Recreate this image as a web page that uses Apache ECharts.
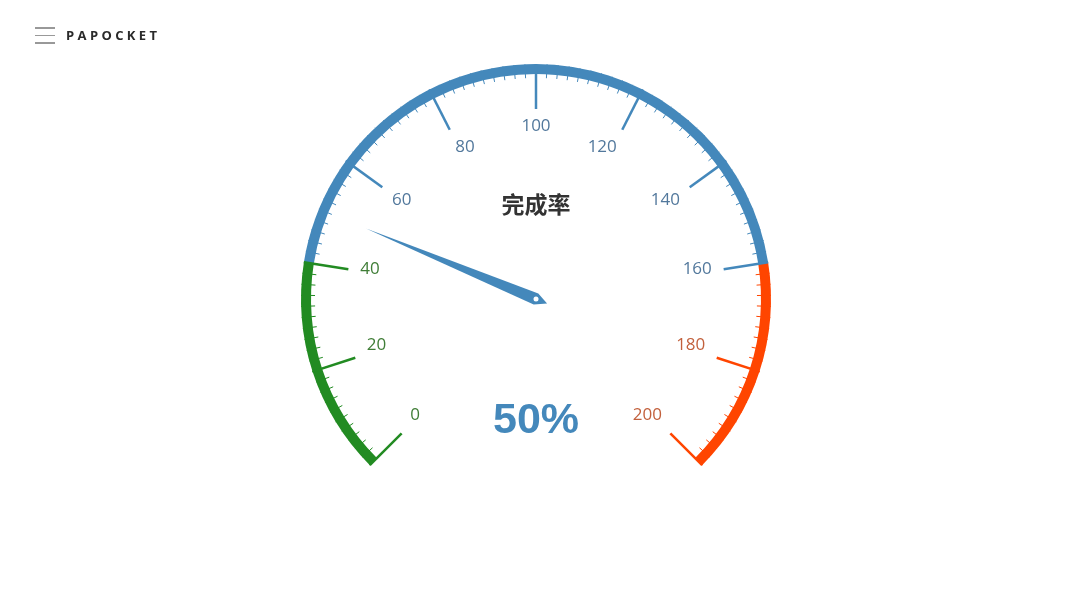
<!DOCTYPE html>
<html>
<head>
<meta charset="utf-8">
<script src="https://cdn.jsdelivr.net/npm/echarts@6/dist/echarts.min.js"></script>
<style>
html,body{margin:0;padding:0;background:#fff;}
#main{width:1080px;height:608px;}
</style>
</head>
<body>
<div id="main"></div>
<script>
// ---- data ----
var gaugeTitle = '完成率';
var gaugeValue = 50;
var axisMin = 0;
var axisMax = 200;
var majorSplits = 10;
var minorSplits = 10;
var bandStops = [0.2, 0.8, 1];
var bandColors = ['#228b22', '#4488bb', '#ff4500'];
var labelColors = ['#3f7d36', '#52789c', '#c2603c'];
var brandText = 'P A P O C K E T';
// style: per major tick label, spacer size (px, negative = below / positive = above) and line height
var labelNudges = [-10, -9, -2, 6, 0, 0, 0, 6, -2, -9, -10];
var labelLineHeights = [22, 22, 22, 22, 14, 10, 14, 22, 22, 22, 22];

var chart = echarts.init(document.getElementById('main'), null, {renderer: 'canvas'});

var bands = bandStops.map(function (s, i) { return [s, bandColors[i]]; });
var labelRich = {};
labelColors.forEach(function (c, i) {
  labelLineHeights.forEach(function (lh) {
    labelRich['b' + i + '_' + lh] = {color: c, fontSize: 17, lineHeight: lh, fontFamily: '"Open Sans", "Liberation Sans", sans-serif'};
  });
});
labelNudges.forEach(function (n) {
  var h = Math.abs(n) * 2;
  if (h > 0) labelRich['s' + h] = {fontSize: 1, lineHeight: h, color: 'rgba(0,0,0,0)'};
});
function labelFormatter(v) {
  var p = (v - axisMin) / (axisMax - axisMin);
  var idx = 0;
  for (var i = 0; i < bandStops.length; i++) {
    if (p <= bandStops[i] + 1e-9) { idx = i; break; }
  }
  var k = Math.round(p * majorSplits);
  var main = '{b' + idx + '_' + labelLineHeights[k] + '|' + v + '}';
  var n = labelNudges[k] || 0;
  var h = Math.abs(n) * 2;
  if (n < 0) return main + '\n{s' + h + '| }';
  if (n > 0) return '{s' + h + '| }\n' + main;
  return main;
}

var option = {
  backgroundColor: '#ffffff',
  animation: false,
  graphic: [
    {type: 'line', shape: {x1: 35, y1: 28, x2: 55, y2: 28}, style: {stroke: '#333', lineWidth: 1}},
    {type: 'line', shape: {x1: 35, y1: 35.5, x2: 55, y2: 35.5}, style: {stroke: '#999', lineWidth: 1}},
    {type: 'line', shape: {x1: 35, y1: 43, x2: 55, y2: 43}, style: {stroke: '#333', lineWidth: 1}},
    {type: 'text', left: 66, top: 30, style: {text: brandText, font: 'bold 13px "Open Sans", "Liberation Sans", sans-serif', fill: '#2a2a2a'}}
  ],
  series: [{
    type: 'gauge',
    center: [536, 299],
    radius: 235,
    startAngle: 225,
    endAngle: -45,
    min: axisMin,
    max: axisMax,
    splitNumber: majorSplits,
    axisLine: {
      lineStyle: {width: 10, color: bands}
    },
    splitLine: {
      distance: -10,
      length: 45,
      lineStyle: {color: 'auto', width: 2.5}
    },
    axisTick: {
      distance: -10,
      length: 14,
      splitNumber: minorSplits,
      lineStyle: {color: 'auto', width: 1}
    },
    axisLabel: {
      distance: 22,
      align: 'center',
      verticalAlign: 'middle',
      formatter: labelFormatter,
      rich: labelRich,
      fontSize: 17,
      fontFamily: '"Open Sans", "Liberation Sans", sans-serif'
    },
    pointer: {
      icon: 'path://M6 0 L12 184 L6 196 L0 184 Z',
      length: 196,
      width: 12,
      offsetCenter: [0, 12],
      itemStyle: {color: '#4488bb'}
    },
    anchor: {
      show: true,
      showAbove: true,
      size: 5,
      icon: 'circle',
      itemStyle: {color: '#ffffff', borderWidth: 0}
    },
    title: {
      offsetCenter: [0, '-40.5%'],
      color: '#333',
      fontSize: 23,
      fontWeight: 'bold',
      fontFamily: '"Noto Sans CJK SC", sans-serif'
    },
    detail: {
      offsetCenter: [0, '52%'],
      formatter: '{value}%',
      color: '#4488bb',
      fontSize: 43,
      fontWeight: 'bold',
      fontFamily: '"Liberation Sans", Arial, sans-serif'
    },
    data: [{value: gaugeValue, name: gaugeTitle}]
  }]
};
chart.setOption(option);
</script>
</body>
</html>
